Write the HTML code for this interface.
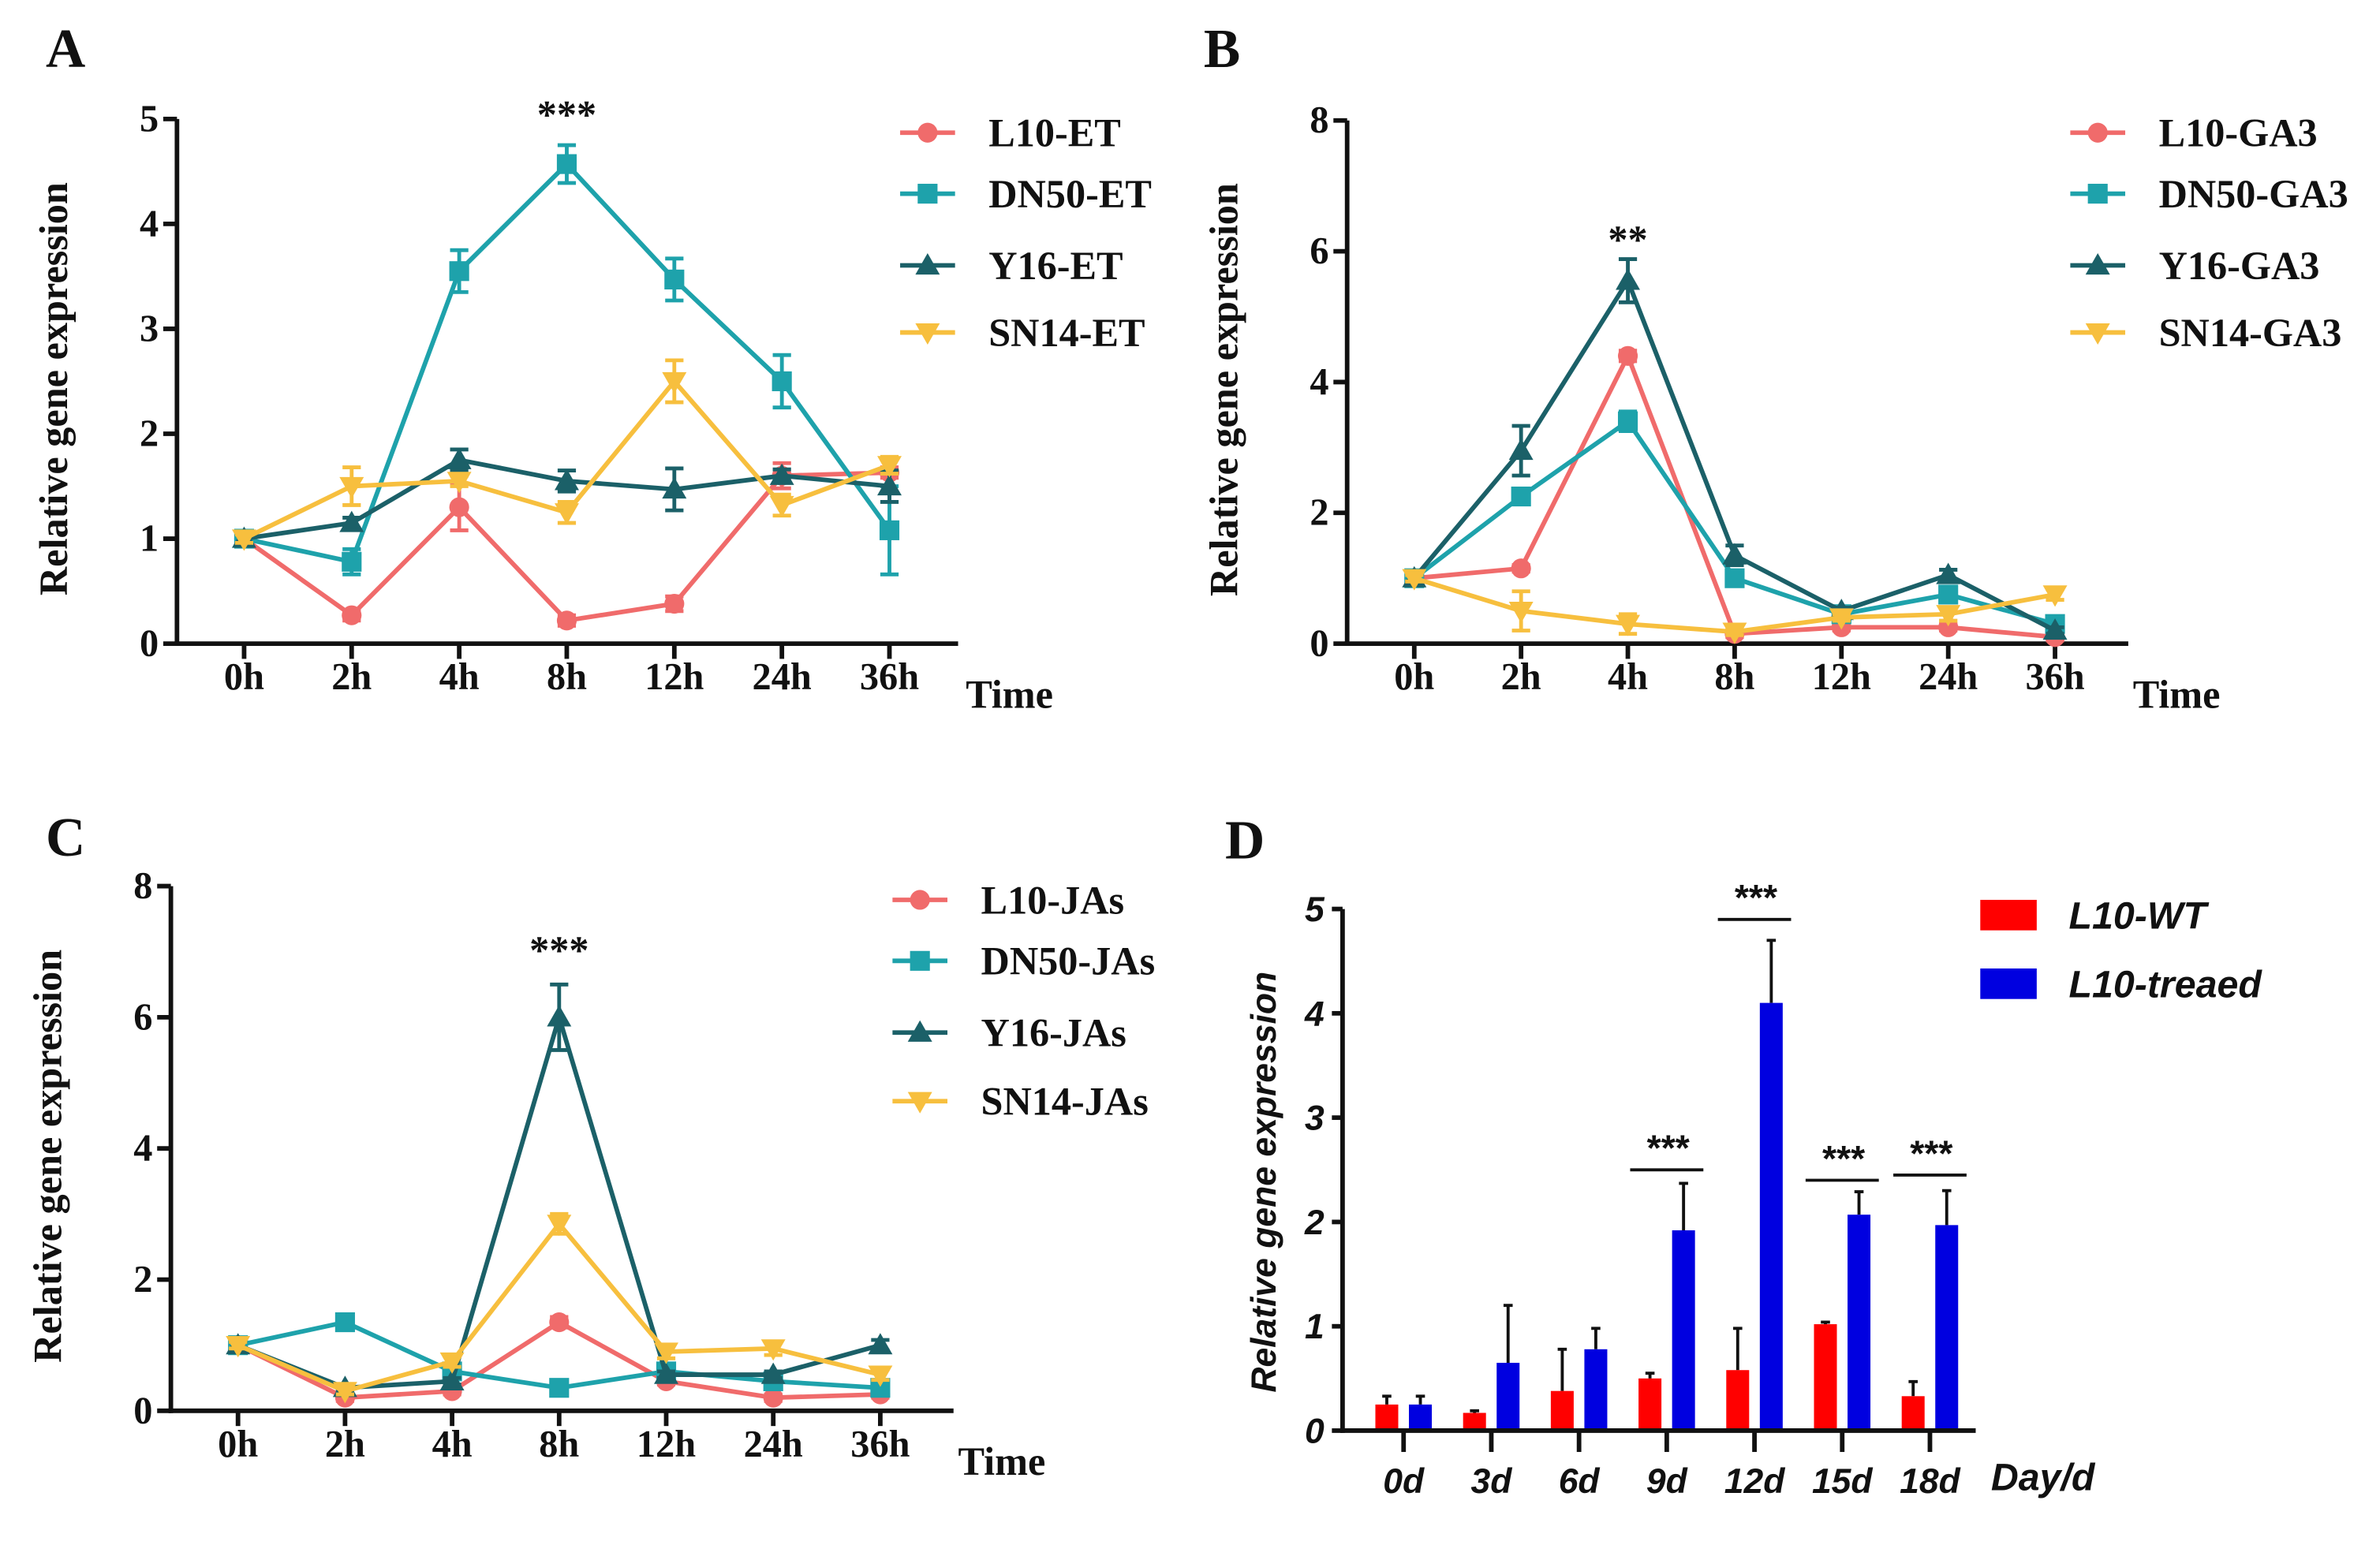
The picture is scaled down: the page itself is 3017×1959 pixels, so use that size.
<!DOCTYPE html>
<html><head><meta charset="utf-8"><style>
html,body{margin:0;padding:0;background:#fff;}
svg{display:block;}
.t{font-family:"Liberation Serif",serif;font-weight:bold;fill:#111;}
.s{font-family:"Liberation Sans",sans-serif;font-weight:bold;font-style:italic;fill:#111;}
</style></head><body>
<svg id="fig" xmlns="http://www.w3.org/2000/svg" width="3017" height="1959" viewBox="0 0 1560 1013" preserveAspectRatio="none"></svg>
<script>
const timeCats=["0h","2h","4h","8h","12h","24h","36h"];
const seriesNames=["L10","DN50","Y16","SN14"];
const colors=["#f06b6b","#1ea2ab","#1b6068","#f7bf3e"];
// Panel A (ET)
const aL10=[1,0.27,1.3,0.22,0.38,1.6,1.63], aL10e=[0.05,0.05,0.22,0.05,0.07,0.12,0.05];
const aDN50=[1,0.78,3.55,4.57,3.47,2.5,1.08], aDN50e=[0.05,0.12,0.2,0.18,0.2,0.25,0.42];
const aY16=[1,1.15,1.75,1.55,1.47,1.6,1.5], aY16e=[0.04,0.05,0.1,0.1,0.2,0.06,0.15];
const aSN14=[1,1.5,1.55,1.25,2.5,1.32,1.7], aSN14e=[0.04,0.18,0.05,0.1,0.2,0.1,0.08];
const aTicks=[0,1,2,3,4,5];
// Panel B (GA3)
const bL10=[1,1.15,4.4,0.15,0.25,0.25,0.1], bL10e=[0.05,0.05,0.08,0.05,0.05,0.05,0.05];
const bDN50=[1,2.25,3.4,1.0,0.45,0.75,0.3], bDN50e=[0.05,0.1,0.15,0.1,0.05,0.08,0.05];
const bY16=[1,2.95,5.55,1.35,0.5,1.05,0.2], bY16e=[0.05,0.38,0.33,0.15,0.05,0.08,0.05];
const bSN14=[1,0.5,0.3,0.18,0.4,0.45,0.75], bSN14e=[0.05,0.3,0.15,0.05,0.05,0.1,0.08];
const bTicks=[0,2,4,6,8];
// Panel C (JAs)
const cL10=[1,0.2,0.3,1.35,0.45,0.2,0.25], cL10e=[0.05,0.05,0.05,0.08,0.05,0.05,0.05];
const cDN50=[1,1.35,0.6,0.35,0.6,0.45,0.35], cDN50e=[0.05,0.08,0.05,0.05,0.05,0.05,0.05];
const cY16=[1,0.35,0.45,6.0,0.55,0.55,1.0], cY16e=[0.05,0.05,0.05,0.5,0.05,0.05,0.08];
const cSN14=[1,0.3,0.75,2.85,0.9,0.95,0.55], cSN14e=[0.05,0.05,0.08,0.15,0.1,0.1,0.08];
const cTicks=[0,2,4,6,8];
// Panel D (bars)
const dayCats=["0d","3d","6d","9d","12d","15d","18d"];
const wtVals=[0.25,0.17,0.38,0.5,0.58,1.02,0.33], wtErr=[0.08,0.02,0.4,0.05,0.4,0.02,0.14];
const trVals=[0.25,0.65,0.78,1.92,4.1,2.07,1.97], trErr=[0.08,0.55,0.2,0.45,0.6,0.22,0.33];
const dTicks=[0,1,2,3,4,5];
const sigIdx=[3,4,5,6], sigLevel=[2.5,4.9,2.4,2.45];

const svg=document.getElementById('fig');
const NS="http://www.w3.org/2000/svg";
function mk(tag,attrs,parent,text){const e=document.createElementNS(NS,tag);for(const k in attrs)e.setAttribute(k,attrs[k]);if(text!==undefined)e.textContent=text;(parent||svg).appendChild(e);return e;}

function marker(g,i,x,y,c){
  let m;
  if(i===0)m=mk('circle',{cx:x,cy:y,r:6.5,fill:c},g);
  else if(i===1)m=mk('rect',{x:x-6.5,y:y-6.5,width:13,height:13,fill:c},g);
  else if(i===2)m=mk('polygon',{points:`${x},${y-8} ${x-8},${y+6} ${x+8},${y+6}`,fill:c},g);
  else m=mk('polygon',{points:`${x},${y+8} ${x-8},${y-6} ${x+8},${y-6}`,fill:c},g);
  return m;
}

function linePanel(cfg){
  const {name,letter,lx,ly,ax,y0,yTop,ymax,x0,x1,axEnd,ticks,data,errs,legend,legX,legY,sig,sigIdx,sigY,timeX,timeY} = cfg;
  const g=mk('g',{}, svg);
  
  
  const yS=v=>y0-(v/ymax)*(y0-yTop);
  const xS=i=>x0+i*(x1-x0)/(timeCats.length-1);
  const L=mk('text',{x:lx,y:ly,'font-size':36,class:'t'},g,letter);
  
  const ya=mk('line',{x1:ax,y1:y0+1.5,x2:ax,y2:yTop,stroke:'#111','stroke-width':3},g);
  
  const xa=mk('line',{x1:ax-1.5,y1:y0,x2:axEnd,y2:y0,stroke:'#111','stroke-width':3},g);
  
  ticks.forEach(t=>{
    const y=yS(t);
    mk('line',{x1:ax-9,y1:y,x2:ax,y2:y,stroke:'#111','stroke-width':3},g);
    const tl=mk('text',{x:ax-12,y:y+8,'font-size':25,'text-anchor':'end',class:'t'},g,String(t));
    
  });
  timeCats.forEach((c,i)=>{
    const x=xS(i);
    mk('line',{x1:x,y1:y0,x2:x,y2:y0+10,stroke:'#111','stroke-width':3},g);
    const tl=mk('text',{x:x,y:y0+30,'font-size':25,'text-anchor':'middle',class:'t'},g,c);
    
  });
  const tt=mk('text',{x:timeX,y:timeY,'font-size':26,class:'t'},g,'Time');
  
  const cy=(y0+yTop)/2+5;
  const yt=mk('text',{x:0,y:0,'font-size':26,'text-anchor':'middle',class:'t',transform:`translate(${ax-72},${cy}) rotate(-90)`},g,'Relative gene expression');
  
  data.forEach((vals,si)=>{
    const c=colors[si];
    const sg=mk('g',{},g);
    
    
    const pts=vals.map((v,i)=>`${xS(i)},${yS(v)}`).join(' ');
    mk('polyline',{points:pts,fill:'none',stroke:c,'stroke-width':3},sg);
    vals.forEach((v,i)=>{
      const x=xS(i),e=errs[si][i];
      mk('path',{d:`M${x},${yS(v-e)}V${yS(v+e)}M${x-6},${yS(v-e)}H${x+6}M${x-6},${yS(v+e)}H${x+6}`,stroke:c,'stroke-width':2.5,fill:'none'},sg);
      const m=marker(sg,si,x,yS(v),c);
      
      
    });
  });
  const st=mk('text',{x:xS(sigIdx),y:sigY,'font-size':26,'text-anchor':'middle',class:'t'},g,sig);
  
  legend.forEach((lab,i)=>{
    const y=legY[i];
    const lg=mk('g',{},g);
    
    
    mk('line',{x1:legX-18,y1:y,x2:legX+18,y2:y,stroke:colors[i],'stroke-width':3},lg);
    marker(lg,i,legX,y,colors[i]);
    mk('text',{x:legX+40,y:y+9,'font-size':26,class:'t'},lg,lab);
  });
}

linePanel({name:'panel-a-et',letter:'A',lx:30,ly:44,ax:116,y0:422,yTop:78,ymax:5,x0:160,x1:583,axEnd:628,ticks:aTicks,
  data:[aL10,aDN50,aY16,aSN14],errs:[aL10e,aDN50e,aY16e,aSN14e],legend:["L10-ET","DN50-ET","Y16-ET","SN14-ET"],
  legX:608,legY:[87,127,174,218],sig:'***',sigIdx:3,sigY:84,timeX:633,timeY:464});
linePanel({name:'panel-b-ga3',letter:'B',lx:789,ly:44,ax:883,y0:422,yTop:79,ymax:8,x0:927,x1:1347,axEnd:1395,ticks:bTicks,
  data:[bL10,bDN50,bY16,bSN14],errs:[bL10e,bDN50e,bY16e,bSN14e],legend:["L10-GA3","DN50-GA3","Y16-GA3","SN14-GA3"],
  legX:1375,legY:[87,127,174,218],sig:'**',sigIdx:2,sigY:166,timeX:1398,timeY:464});
linePanel({name:'panel-c-jas',letter:'C',lx:30,ly:561,ax:112,y0:925,yTop:581,ymax:8,x0:156,x1:577,axEnd:625,ticks:cTicks,
  data:[cL10,cDN50,cY16,cSN14],errs:[cL10e,cDN50e,cY16e,cSN14e],legend:["L10-JAs","DN50-JAs","Y16-JAs","SN14-JAs"],
  legX:603,legY:[590,630,677,722],sig:'***',sigIdx:3,sigY:632,timeX:628,timeY:967});

(function(){
  const ax=880,y0=938,yTop=596,ymax=5,x0=920,step=57.5,axEnd=1295,bw=15;
  const g=mk('g',{},svg);
  
  
  const yS=v=>y0-(v/ymax)*(y0-yTop);
  const xS=i=>x0+i*step;
  const L=mk('text',{x:803,y:563,'font-size':36,class:'t'},g,'D');
  
  dayCats.forEach((c,i)=>{
    const xr=xS(i)-11, xb=xS(i)+11;
    mk('path',{d:`M${xr},${yS(wtVals[i])}V${yS(wtVals[i]+wtErr[i])}M${xr-3},${yS(wtVals[i]+wtErr[i])}H${xr+3}`,stroke:'#111','stroke-width':2},g);
    mk('path',{d:`M${xb},${yS(trVals[i])}V${yS(trVals[i]+trErr[i])}M${xb-3},${yS(trVals[i]+trErr[i])}H${xb+3}`,stroke:'#111','stroke-width':2},g);
    const r=mk('rect',{x:xr-bw/2,y:yS(wtVals[i]),width:bw,height:y0-yS(wtVals[i]),fill:'#ff0000'},g);
    
    const b=mk('rect',{x:xb-bw/2,y:yS(trVals[i]),width:bw,height:y0-yS(trVals[i]),fill:'#0000e0'},g);
    
  });
  mk('line',{x1:ax,y1:y0+1.5,x2:ax,y2:yTop,stroke:'#111','stroke-width':3},g);
  mk('line',{x1:ax-1.5,y1:y0,x2:axEnd,y2:y0,stroke:'#111','stroke-width':3},g);
  dTicks.forEach(t=>{
    const y=yS(t);
    mk('line',{x1:ax-7,y1:y,x2:ax,y2:y,stroke:'#111','stroke-width':3},g);
    const tl=mk('text',{x:ax-12,y:y+8,'font-size':23,'text-anchor':'end',class:'s'},g,String(t));
    
  });
  dayCats.forEach((c,i)=>{
    const x=xS(i);
    mk('line',{x1:x,y1:y0,x2:x,y2:y0+14,stroke:'#111','stroke-width':3},g);
    const tl=mk('text',{x:x,y:y0+41,'font-size':23,'text-anchor':'middle',class:'s'},g,c);
    
  });
  const tt=mk('text',{x:1305,y:977,'font-size':25,class:'s'},g,'Day/d');
  
  const yt=mk('text',{x:0,y:0,'font-size':23,'text-anchor':'middle',class:'s',transform:`translate(836,${(y0+yTop)/2+8}) rotate(-90)`},g,'Relative gene expression');
  
  sigIdx.forEach((idx,k)=>{
    const x=xS(idx),y=yS(sigLevel[k]);
    const sg=mk('g',{},g);
    
    
    mk('line',{x1:x-24,y1:y,x2:x+24,y2:y,stroke:'#111','stroke-width':2},sg);
    mk('text',{x:x,y:y-6,'font-size':24,'text-anchor':'middle',class:'s'},sg,'***');
  });
  const leg=[["L10-WT","#ff0000",600],["L10-treaed","#0000e0",645]];
  leg.forEach(l=>{
    const lg=mk('g',{},g);
    
    
    mk('rect',{x:1298,y:l[2]-10,width:37,height:20,fill:l[1]},lg);
    mk('text',{x:1356,y:l[2]+9,'font-size':25,class:'s'},lg,l[0]);
  });
})();
</script>
</body></html>
